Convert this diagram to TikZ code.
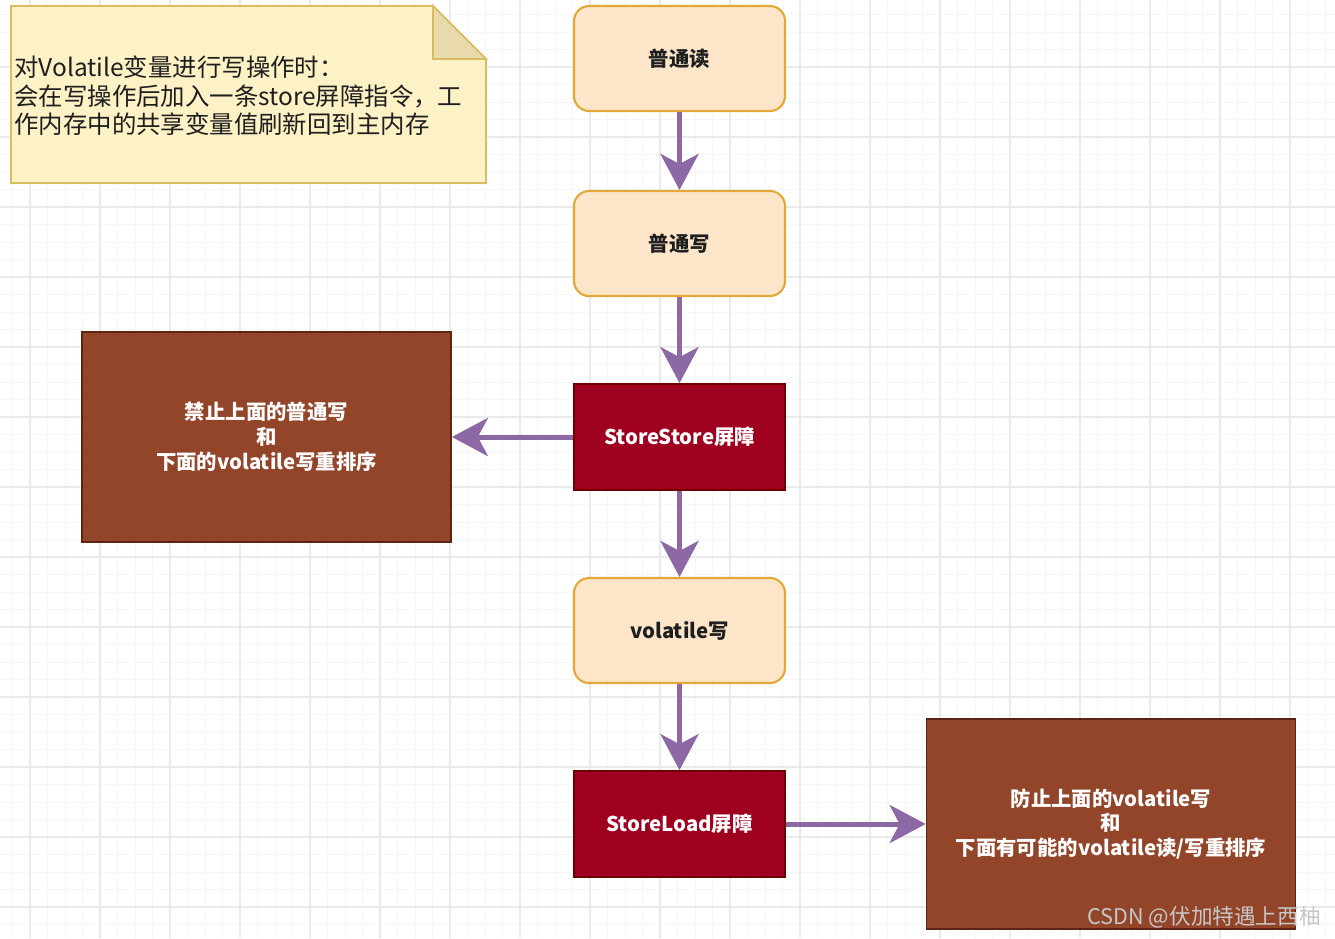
\documentclass[tikz,border=0pt]{standalone}
\usepackage{fontspec}
\setmainfont{Noto Sans CJK SC}
\usetikzlibrary{arrows.meta}
\definecolor{gridminor}{HTML}{F6F6F6}
\definecolor{gridmajor}{HTML}{EAEAEA}
\definecolor{notefill}{HTML}{FDF1C6}
\definecolor{notefold}{HTML}{E9DBAC}
\definecolor{noteline}{HTML}{D8BC62}
\definecolor{opfill}{HTML}{FDE5C9}
\definecolor{opline}{HTML}{E3A838}
\definecolor{fencefill}{HTML}{A0001F}
\definecolor{fenceline}{HTML}{6F0000}
\definecolor{rulefill}{HTML}{93452A}
\definecolor{ruleline}{HTML}{5E2412}
\definecolor{flowcol}{HTML}{8C68A4}
\definecolor{darktext}{HTML}{1E1E1E}
\begin{document}
\begin{tikzpicture}[x=0.02cm, y=-0.02cm,
  op node/.style={rectangle, rounded corners=0.3cm, draw=opline, fill=opfill, line width=1.2pt, minimum width=4.22cm, minimum height=2.1cm, inner sep=0pt, text=darktext, font=\bfseries\fontsize{11.6}{14}\selectfont},
  fence node/.style={rectangle, draw=fenceline, fill=fencefill, line width=1pt, minimum width=4.22cm, minimum height=2.12cm, inner sep=0pt, text=white, font=\bfseries\fontsize{11.6}{14}\selectfont},
  rule node/.style={rectangle, draw=ruleline, fill=rulefill, line width=1pt, minimum width=7.38cm, minimum height=4.2cm, inner sep=0pt, align=center, text=white, font=\bfseries\fontsize{11.6}{14.2}\selectfont},
  flow/.style={color=flowcol, line width=0.1cm, -{Stealth[length=0.72cm, width=0.76cm, inset=0.2cm]}}]
\useasboundingbox (0,0) rectangle (1335,938);
% grid paper
\fill [white] (0,0) rectangle (1335,938);
\foreach \x in {12.5,30,...,1335} \draw [gridminor, line width=0.5pt] (\x,0) -- (\x,938);
\foreach \y in {14.5,32,...,938} \draw [gridminor, line width=0.5pt] (0,\y) -- (1335,\y);
\foreach \x in {30,100,...,1335} \draw [gridmajor, line width=0.8pt] (\x,0) -- (\x,938);
\foreach \y in {67,137,...,938} \draw [gridmajor, line width=0.8pt] (0,\y) -- (1335,\y);
% note
\filldraw [fill=notefill, draw=noteline, line width=1pt] (11,6) -- (433,6) -- (486,59) -- (486,183) -- (11,183) -- cycle;
\filldraw [fill=notefold, draw=noteline, line width=1pt] (433,6) -- (433,59) -- (486,59) -- cycle;
\node [anchor=west, align=left, inner sep=0pt, text=darktext, font=\fontsize{13.9}{16.2}\selectfont] (note) at (14,96) {对Volatile变量进行写操作时：\\会在写操作后加入一条store屏障指令，工\\作内存中的共享变量值刷新回到主内存};
% flow
\node [op node] (r1) at (679.5,58.5) {普通读};
\node [op node] (w1) at (679.5,243.5) {普通写};
\node [fence node] (ss) at (679.5,437) {StoreStore屏障};
\node [op node] (vw) at (679.5,630.5) {volatile写};
\node [fence node] (sl) at (679.5,824) {StoreLoad屏障};
\node [rule node] (lrule) at (266.5,437) {禁止上面的普通写\\和\\下面的volatile写重排序};
\node [rule node] (rrule) at (1111,824) {防止上面的volatile写\\和\\下面有可能的volatile读/写重排序};
\draw [flow] (r1) edge (w1);
\draw [flow] (w1) edge (ss);
\draw [flow] (ss) edge (vw);
\draw [flow] (vw) edge (sl);
\draw [flow] (ss) edge (lrule);
\draw [flow] (sl) edge (rrule);
\node [anchor=east, inner sep=0pt, text=white!78!black, font=\fontsize{12.3}{14}\selectfont] (csdn) at (1321,917) {CSDN @伏加特遇上西柚};
\end{tikzpicture}
\end{document}
